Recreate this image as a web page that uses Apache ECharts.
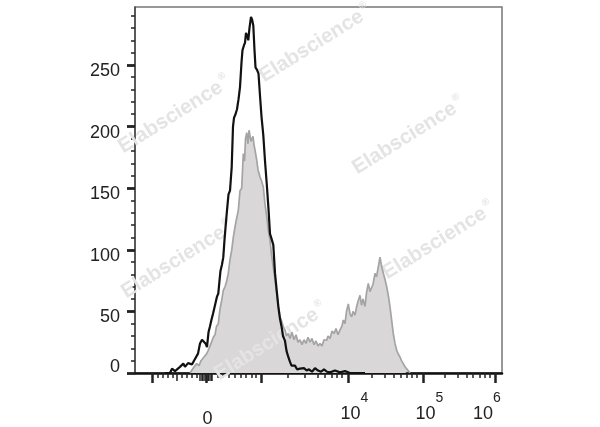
<!DOCTYPE html>
<html><head><meta charset="utf-8">
<script src="https://cdn.jsdelivr.net/npm/echarts@6/dist/echarts.min.js"></script>
<style>html,body{margin:0;padding:0;background:#fff}#c{width:600px;height:427px}</style>
</head><body><div id="c"></div><script>
// ---- data (x in display-channel units of the biexponential axis, y = count) ----
const blackCurve = [[30,0],[35,0],[37,3.5],[40,1.5],[42,1],[45,5],[47,4],[48.3,7.6],[50,5],[51.7,6],[53,8],[55,9],[57,7],[59,10],[61,11],[63,15.7],[65,24],[67,27],[69,26],[70.5,24],[72,21],[73.5,33],[75,38],[76.7,44],[78,48],[80,55],[82,62],[83.3,64.5],[84.5,75],[85.5,83],[87,88],[88.3,94],[89.5,108],[90.5,118],[92,132],[93.5,145],[95,148],[96.7,167],[98,200],[99,207],[100.5,210],[102,214],[103.5,222],[105,232],[106.5,252],[107.5,262],[109,266],[110,268],[111,276],[112,274],[113.3,270],[114.5,280],[116,289],[117,287],[118.3,282],[119.5,262],[120.5,248],[122,246],[123.5,243],[125,225],[126.5,208],[128.3,193],[130,172],[131.7,154],[133.5,133],[135,113],[136.5,109],[138.3,104],[140,81],[141.7,67],[143.3,54],[145,44],[146.7,37],[148,30],[150,26],[151.5,18],[153.3,13],[155,9],[156.5,6],[158.3,5],[160,6],[162,3],[165,3.5],[167,2],[169,4],[171.7,2],[174,3],[177,1],[180,4],[183,2],[186,1],[189,3],[192,1],[195,0.5],[200,2],[205,0.5],[210,1.5],[215,0],[230,0]];
const grayCurve = [[55,0],[58.3,4],[61.7,7.6],[64,6],[66,10],[68,9],[70,14],[71.7,15.7],[73,18],[75,17],[76.5,25],[78.3,29],[80,31],[81.5,38],[83.3,40],[85,52],[86.5,58],[88.3,67],[90,70],[91.5,74],[93.3,81],[95,92],[96.7,99.7],[98.3,110],[100,118.6],[101.5,125],[103.3,132],[105,148],[106.7,150],[108.3,178],[109.5,172],[110.5,190],[111.7,195],[113,186],[114,197],[115,198],[116,188],[116.7,187],[118,192],[119,185],[120,181],[121.7,173],[123,165],[125,159],[126.5,156],[128.3,151],[130,137],[131.7,127],[133.5,115],[135,108],[136.5,96],[138.3,86],[140,76],[141.7,64.5],[143.3,55],[145,45.5],[146.7,42],[148.3,37.4],[150,35],[151.5,30],[153.3,32],[155,28],[157,33],[159,27],[161,31],[163,25],[165,27],[167,23],[169,27],[171,24],[173,29],[175,25],[177,28],[179,23],[181,26],[183,22],[185,24],[187,22],[189,27],[191.7,26.6],[193,30],[195,28],[197,34],[199,32],[201,36],[203,31],[205,35],[207,38],[208.3,43],[210,40],[211.5,50],[213.3,56],[215,48],[216.7,45.5],[218,50],[220,47],[221.7,54],[223,58],[225,63],[226.5,55],[228,60],[230,54],[231.5,65],[233.3,72.6],[235,66],[236.7,67],[238,72],[240,80.8],[241.5,78],[243.3,86],[245,94],[246.5,87],[248.3,81],[250,76],[251.7,70],[253.5,62],[255,53.6],[256.5,44],[258.3,32],[260,24],[261.7,18.4],[263.5,15],[265,13],[266.5,10],[268.3,7.6],[270,5],[271.7,3.5],[273.5,1.5],[275,0]];

// axis ticks / labels
const yMajorTicks = [0,50,100,150,200,250];
const yMinorTicks = [10,20,30,40,60,70,80,90,110,120,130,140,160,170,180,190,210,220,230,240,260,270,280,290];
const xMajorTicks = [17.3,71,126,213.3,288.3,360];
const xMidTicks = [41.7,65,66.5,68,69.5,72.5,74,75.5,77];
const xMinorTicks = [23,28,33,38,47,52,57,62,83,88,94,100,106,111,117,121,153,170,183,190,197,202,207,237,250,259,266,272,277,282,310,323,332,338,345,350,355];
const xLabelPos = [72.5,219.5,294.5,352];
const xLabelText = ['0','10|4','10|5','10|6'];

const X_MIN = 0, X_MAX = 367, Y_MAX = 297;
const FONT = '"Liberation Sans", Arial, Helvetica, sans-serif';

const chart = echarts.init(document.getElementById('c'));

function xAx(extra){
  return Object.assign({type:'value',min:X_MIN,max:X_MAX,position:'bottom',gridIndex:0,
    splitLine:{show:false},axisLine:{show:false},axisLabel:{show:false},axisTick:{show:false}}, extra);
}
function yAx(extra){
  return Object.assign({type:'value',min:0,max:Y_MAX,position:'left',gridIndex:0,
    splitLine:{show:false},axisLine:{show:false},axisLabel:{show:false},axisTick:{show:false}}, extra);
}

const watermarks = [[174,114],[315,43],[408,135],[177,259],[438,240],[270,341]];

chart.setOption({
  animation:false,
  backgroundColor:'#fff',
  grid:{left:135,top:7,width:367,height:366,containLabel:false,outerBoundsMode:'none',
    show:true,borderColor:'#777',borderWidth:1.5,backgroundColor:'transparent'},
  xAxis:[
    xAx({
      axisLine:{show:true,onZero:false,lineStyle:{color:'#111',width:2.5}},
      axisTick:{show:true,customValues:xMajorTicks,length:10,lineStyle:{color:'#222',width:2.5}},
      axisLabel:{show:true,customValues:xLabelPos,margin:32,color:'#222',fontFamily:FONT,
        formatter:function(v){
          let i = xLabelPos.findIndex(p=>Math.abs(p-v)<0.01);
          if(i<0) return '';
          const t = xLabelText[i].split('|');
          if(t.length===1) return '{z|'+t[0]+'}';
          return '{a|'+t[0]+'}{b|'+t[1]+'}';
        },
        rich:{
          z:{fontSize:18,lineHeight:18,padding:[10,0,0,0],fontFamily:FONT,color:'#222'},
          a:{fontSize:18,lineHeight:18,verticalAlign:'bottom',fontFamily:FONT,color:'#222'},
          b:{fontSize:14,lineHeight:14,padding:[0,0,18,0],verticalAlign:'bottom',fontFamily:FONT,color:'#222'}
        }}
    }),
    xAx({axisTick:{show:true,customValues:xMinorTicks,length:5,lineStyle:{color:'#222',width:1.5}}}),
    xAx({axisTick:{show:true,customValues:xMidTicks,length:8,lineStyle:{color:'#222',width:1.5}}})
  ],
  yAxis:[
    yAx({
      axisLine:{show:true,onZero:false,lineStyle:{color:'#444',width:1.5}},
      axisTick:{show:true,customValues:yMajorTicks,length:8,lineStyle:{color:'#222',width:2.8}},
      axisLabel:{show:true,customValues:yMajorTicks,margin:15,color:'#222',fontFamily:FONT,
        formatter:function(v){ return v===0 ? '{z|0}' : '{n|'+v+'}'; },
        rich:{
          n:{fontSize:18,lineHeight:18,padding:[12,0,0,0],fontFamily:FONT,color:'#222'},
          z:{fontSize:18,lineHeight:18,padding:[0,0,12,0],fontFamily:FONT,color:'#222'}
        }}
    }),
    yAx({axisTick:{show:true,customValues:yMinorTicks,length:4,lineStyle:{color:'#222',width:1.5}}})
  ],
  graphic: watermarks.map(p=>({type:'text',x:p[0],y:p[1],rotation:32*Math.PI/180,z:2,silent:true,
    style:{text:'{w|Elabscience}{r|®}',fill:'#e4e4e4',align:'center',verticalAlign:'middle',
      rich:{w:{font:'bold 20.5px '+FONT,fill:'#e4e4e4',lineHeight:23,verticalAlign:'bottom'},
            r:{font:'bold 10px '+FONT,fill:'#e4e4e4',lineHeight:10,padding:[0,0,13,2],verticalAlign:'bottom'}}}})),
  series:[
    {type:'line',name:'fill',data:grayCurve,xAxisIndex:0,yAxisIndex:0,showSymbol:false,z:1,
      lineStyle:{width:0},areaStyle:{color:'#d9d7d8',opacity:1}},
    {type:'line',name:'gray',data:grayCurve,xAxisIndex:0,yAxisIndex:0,showSymbol:false,z:3,
      lineStyle:{color:'#a4a4a4',width:1.7}},
    {type:'line',name:'black',data:blackCurve,xAxisIndex:0,yAxisIndex:0,showSymbol:false,z:4,
      lineStyle:{color:'#111',width:2.2}}
  ]
});
</script></body></html>
